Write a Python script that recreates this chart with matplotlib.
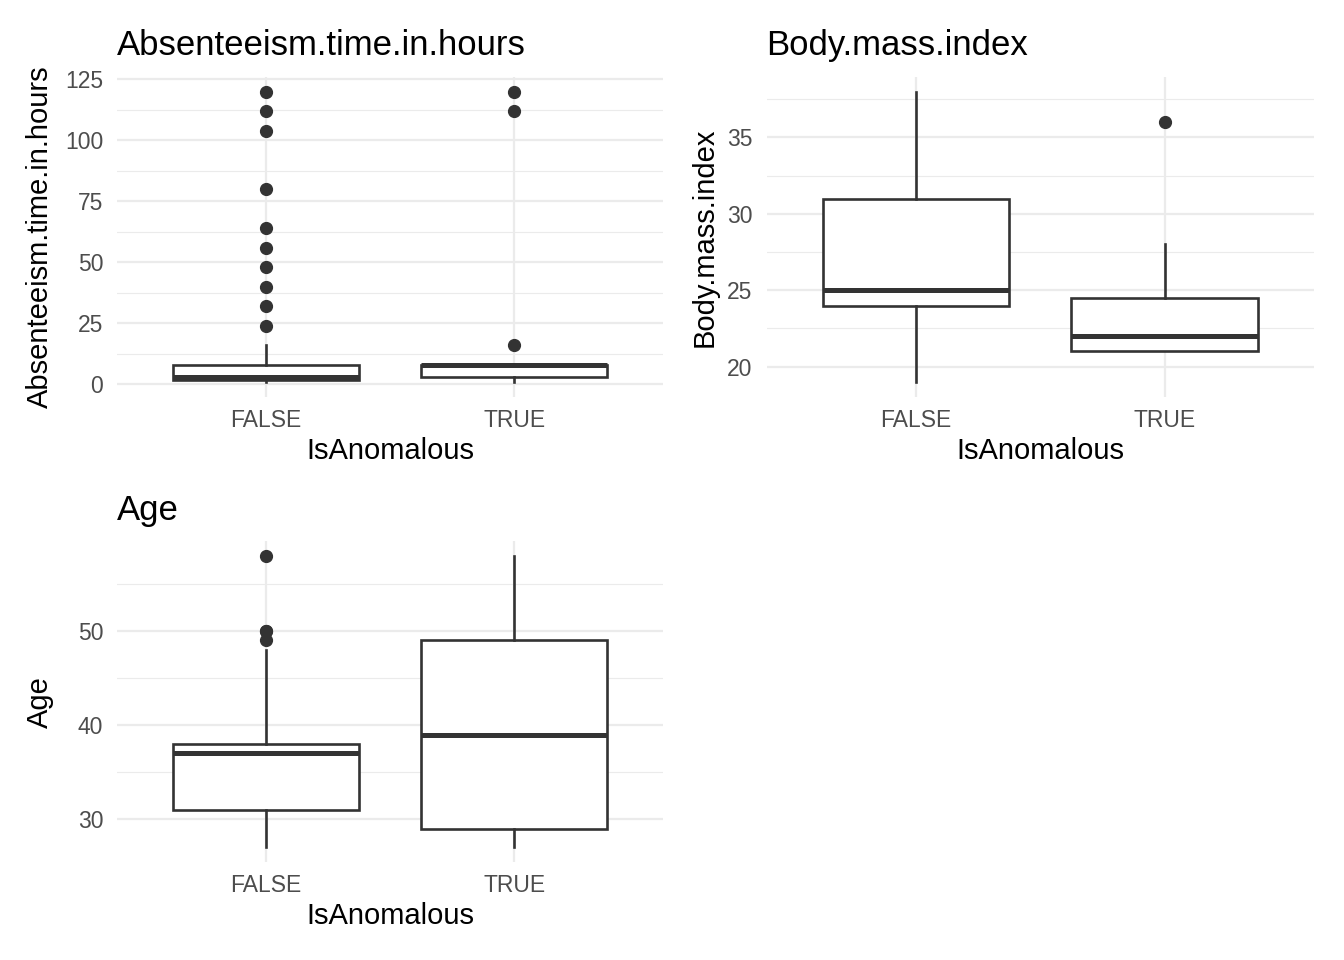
import matplotlib
matplotlib.use("Agg")
import matplotlib.pyplot as plt
from matplotlib.ticker import MultipleLocator

plt.rcParams['font.family'] = ['Liberation Sans', 'DejaVu Sans']

categories = ["FALSE", "TRUE"]
x_label = "IsAnomalous"

# Absenteeism.time.in.hours
abs_whislo = [1, 1]
abs_q1 = [2, 3]
abs_med = [3, 8]
abs_q3 = [8, 8]
abs_whishi = [16, 8]
abs_fliers = [[24, 32, 40, 48, 56, 64, 80, 104, 112, 120], [16, 112, 120]]

# Body.mass.index
bmi_whislo = [19, 21]
bmi_q1 = [24, 21]
bmi_med = [25, 22]
bmi_q3 = [31, 24.5]
bmi_whishi = [38, 28]
bmi_fliers = [[], [36]]

# Age
age_whislo = [27, 27]
age_q1 = [31, 29]
age_med = [37, 39]
age_q3 = [38, 49]
age_whishi = [48, 58]
age_fliers = [[49, 50, 50, 58], []]

panels = [
    ("Absenteeism.time.in.hours", abs_whislo, abs_q1, abs_med, abs_q3, abs_whishi, abs_fliers, 25, 12.5),
    ("Body.mass.index", bmi_whislo, bmi_q1, bmi_med, bmi_q3, bmi_whishi, bmi_fliers, 5, 2.5),
    ("Age", age_whislo, age_q1, age_med, age_q3, age_whishi, age_fliers, 10, 5),
]

W, H = 1344, 960
fig = plt.figure(figsize=(W / 100, H / 100), dpi=100)
fig.patch.set_facecolor("white")

rects = [
    (117 / W, 1 - 396.5 / H, 546 / W, 319.5 / H),
    (766.6 / W, 1 - 396.5 / H, 547.4 / W, 319.5 / H),
    (117 / W, 1 - 862 / H, 546 / W, 320.8 / H),
]
ylabel_x = [40, 705, 40]
xlabel_y = [451, 451, 916]
title_y = [45.5, 45.5, 510.5]

dark = "#333333"
grid_c = "#EBEBEB"
txt_c = "#4D4D4D"

for (name, wlo, q1, med, q3, whi, fl, major, minor), rect, ylx, xly, ty in zip(
        panels, rects, ylabel_x, xlabel_y, title_y):
    ax = fig.add_axes(rect)
    stats = []
    for i in range(len(categories)):
        stats.append(dict(whislo=wlo[i], q1=q1[i], med=med[i], q3=q3[i],
                          whishi=whi[i], fliers=fl[i], label=categories[i]))
    ax.bxp(stats, positions=[1, 2], widths=0.75, showcaps=False,
           boxprops=dict(color=dark, linewidth=1.9),
           whiskerprops=dict(color=dark, linewidth=1.9),
           medianprops=dict(color=dark, linewidth=3.6, solid_capstyle='butt'),
           flierprops=dict(marker='o', markerfacecolor=dark, markeredgecolor=dark,
                           markersize=8.5, linestyle='none'),
           patch_artist=True)
    for p in ax.patches:
        p.set_facecolor("white")
        p.set_edgecolor(dark)
        p.set_linewidth(1.9)
    # limits with ggplot expansion
    allv = wlo + whi + [v for f in fl for v in f]
    lo, hi = min(allv), max(allv)
    pad = 0.05 * (hi - lo)
    ax.set_ylim(lo - pad, hi + pad)
    ax.set_xlim(0.4, 2.6)
    ax.yaxis.set_major_locator(MultipleLocator(major))
    ax.yaxis.set_minor_locator(MultipleLocator(minor))
    ax.set_xticks([1, 2])
    ax.set_xticklabels(categories)
    ax.grid(True, which='major', color=grid_c, linewidth=1.6)
    ax.grid(True, which='minor', axis='y', color=grid_c, linewidth=0.8)
    ax.set_axisbelow(True)
    for s in ax.spines.values():
        s.set_visible(False)
    ax.tick_params(which='both', length=0)
    ax.tick_params(axis='y', labelsize=16.5, labelcolor=txt_c, pad=10)
    ax.tick_params(axis='x', labelsize=16.5, labelcolor=txt_c, pad=9)
    fig.text(rect[0] + rect[2] / 2, 1 - xly / H, x_label, fontsize=21,
             color='black', ha='center', va='center')
    fig.text(ylx / W, rect[1] + rect[3] / 2, name, fontsize=21, color='black',
             ha='center', va='center', rotation=90)
    fig.text(rect[0], 1 - ty / H, name, fontsize=25, color='black',
             ha='left', va='center')

fig.savefig("out.png", dpi=100, facecolor="white")
